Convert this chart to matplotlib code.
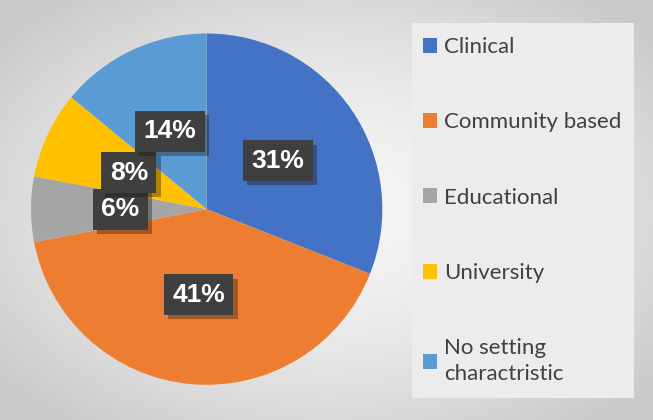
import numpy as np
import matplotlib.pyplot as plt
import matplotlib.patheffects as pe
from matplotlib.patches import Patch, Rectangle

categories = ["Clinical", "Community based", "Educational", "University",
              "No setting\ncharactristic"]
shares = [31, 41, 6, 8, 14]
colors = ["#4472C4", "#ED7D31", "#A5A5A5", "#FFC000", "#5B9BD5"]

fig = plt.figure(figsize=(6.53, 4.2), dpi=100)

# radial grey background
bg = fig.add_axes([0, 0, 1, 1], zorder=-10)
yy, xx = np.mgrid[-1:1:300j, -1:1:450j]
dist = np.clip(np.sqrt(xx ** 2 + yy ** 2) / 1.3, 0, 1)
bg.imshow(0.96 - 0.17 * dist ** 1.6, cmap="gray", vmin=0, vmax=1,
          aspect="auto", extent=[0, 1, 0, 1], interpolation="bicubic")
bg.set_axis_off()

ax = fig.add_axes([0.0475, 0.083, 0.538, 0.838])
wedges, _, pcts = ax.pie(shares, colors=colors, startangle=90, counterclock=False,
                         autopct="%d%%", pctdistance=0.49,
                         wedgeprops=dict(linewidth=0),
                         textprops=dict(color="white", fontsize=19,
                                        fontweight="bold",
                                        family="Liberation Sans"))
for t in pcts:
    t.set_bbox(dict(boxstyle="square,pad=0.32", facecolor="#3f3f3f",
                    edgecolor="none"))
    t.get_bbox_patch().set_path_effects(
        [pe.SimplePatchShadow(offset=(3, -3), alpha=0.35), pe.Normal()])
ax.set_xlim(-1, 1)
ax.set_ylim(-1, 1)
ax.set_aspect("equal")

# legend panel
fig.patches.append(Rectangle((412 / 653, 1 - 398 / 420), 222 / 653, 375 / 420,
                             transform=fig.transFigure, facecolor="#ececec",
                             edgecolor="none", zorder=1))
handles = [Patch(facecolor=c, edgecolor="none") for c in colors]
leg = fig.legend(handles, categories, loc="upper left",
                 bbox_to_anchor=(403 / 653, 1 - 17 / 420), frameon=False,
                 prop=dict(family="Lato", size=16), labelcolor="#404040",
                 handlelength=0.65, handleheight=0.65, handletextpad=0.3,
                 labelspacing=2.49)
leg.get_texts()[-1].set_linespacing(1.35)

fig.savefig("out.png", dpi=100)
